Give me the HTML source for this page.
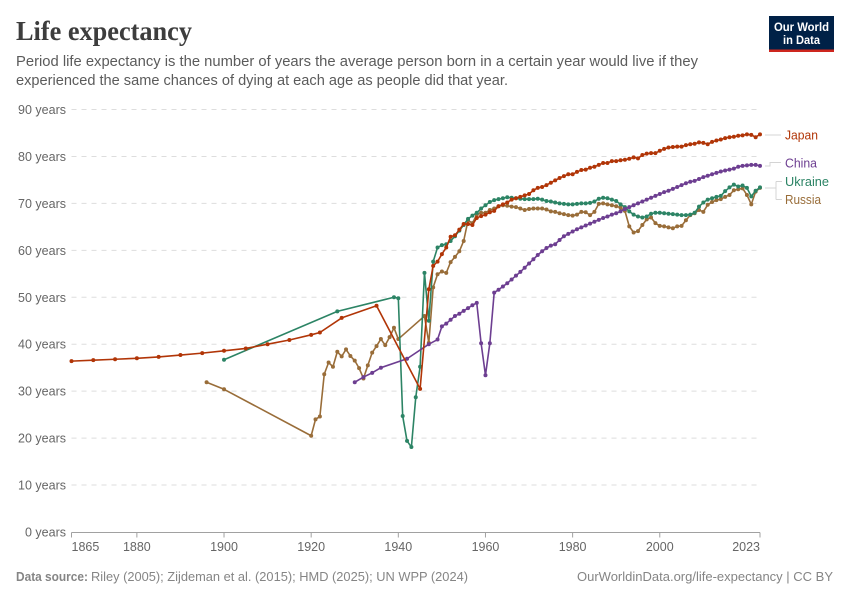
<!DOCTYPE html>
<html>
<head>
<meta charset="utf-8">
<title>Life expectancy</title>
<style>
html,body{margin:0;padding:0;background:#fff;width:850px;height:600px;overflow:hidden}
svg{display:block;font-family:"Liberation Sans",sans-serif}
</style>
</head>
<body>
<svg id="chart" width="850" height="600" viewBox="0 0 850 600" xmlns="http://www.w3.org/2000/svg">
  <text x="16" y="40" font-family="'Liberation Serif',serif" font-weight="700" font-size="27" fill="#3d3d3d" textLength="176" lengthAdjust="spacingAndGlyphs">Life expectancy</text>
  <text x="16" y="66" font-size="14.5" fill="#5b5b5b" textLength="682" lengthAdjust="spacingAndGlyphs">Period life expectancy is the number of years the average person born in a certain year would live if they</text>
  <text x="16" y="85" font-size="14.5" fill="#5b5b5b" textLength="492" lengthAdjust="spacingAndGlyphs">experienced the same chances of dying at each age as people did that year.</text>

  <g>
    <rect x="769" y="16" width="65" height="36" fill="#002147"/>
    <rect x="769" y="49.5" width="65" height="2.5" fill="#ce261e"/>
    <text x="801.5" y="31" text-anchor="middle" font-size="12" font-weight="700" fill="#fff" textLength="55" lengthAdjust="spacingAndGlyphs">Our World</text>
    <text x="801.5" y="44" text-anchor="middle" font-size="12" font-weight="700" fill="#fff" textLength="37" lengthAdjust="spacingAndGlyphs">in Data</text>
  </g>

  <g id="grid"></g>
  <g id="yticks"></g>
  <g id="xaxis"></g>
  <g id="series"></g>

  <g fill="none" stroke="#d4d4d4" stroke-width="1">
    <path d="M765 135H781"/>
    <path d="M765 166H770V162.500H781"/>
    <path d="M765 188H776M776 181.500V199.500M776 181.500H782M776 199.500H782"/>
  </g>
  <text x="785" y="139.500" font-size="13" fill="#b13507" textLength="33" lengthAdjust="spacingAndGlyphs">Japan</text>
  <text x="785" y="167.500" font-size="13" fill="#6d3e91" textLength="32" lengthAdjust="spacingAndGlyphs">China</text>
  <text x="785" y="186" font-size="13" fill="#2c8465" textLength="44" lengthAdjust="spacingAndGlyphs">Ukraine</text>
  <text x="785" y="204" font-size="13" fill="#996d39" textLength="36" lengthAdjust="spacingAndGlyphs">Russia</text>

  <text x="16" y="581" font-size="12.500" font-weight="700" fill="#858585" textLength="72" lengthAdjust="spacingAndGlyphs">Data source:</text>
  <text x="91" y="581" font-size="12.500" fill="#858585" textLength="377" lengthAdjust="spacingAndGlyphs">Riley (2005); Zijdeman et al. (2015); HMD (2025); UN WPP (2024)</text>
  <text x="577" y="581" font-size="12.500" fill="#858585" textLength="256" lengthAdjust="spacingAndGlyphs">OurWorldinData.org/life-expectancy | CC BY</text>
</svg>
<script>
const yTickValues = [0, 10, 20, 30, 40, 50, 60, 70, 80, 90];
const xTickYears = [1865, 1880, 1900, 1920, 1940, 1960, 1980, 2000, 2023];

const japanYears = [1865,1870,1875,1880,1885,1890,1895,1900,1905,1910,1915,1920,1922,1927,1935,1945,1947,1948,1949,1950,1951,1952,1953,1954,1955,1956,1957,1958,1959,1960,1961,1962,1963,1964,1965,1966,1967,1968,1969,1970,1971,1972,1973,1974,1975,1976,1977,1978,1979,1980,1981,1982,1983,1984,1985,1986,1987,1988,1989,1990,1991,1992,1993,1994,1995,1996,1997,1998,1999,2000,2001,2002,2003,2004,2005,2006,2007,2008,2009,2010,2011,2012,2013,2014,2015,2016,2017,2018,2019,2020,2021,2022,2023];
const japanValues = [36.4,36.6,36.8,37.0,37.3,37.7,38.1,38.6,39.1,40.0,40.9,42.0,42.5,45.6,48.2,30.5,51.7,56.7,57.6,59.2,60.6,62.9,63.2,64.4,65.6,65.6,65.4,66.9,67.3,67.6,68.1,68.4,69.4,69.8,70.2,70.8,71.1,71.4,71.7,72.0,72.8,73.3,73.5,73.9,74.4,74.9,75.4,75.8,76.2,76.2,76.7,77.1,77.2,77.6,77.8,78.2,78.6,78.6,79.0,79.0,79.2,79.3,79.5,79.8,79.6,80.3,80.6,80.7,80.7,81.2,81.6,81.9,82.0,82.1,82.1,82.4,82.6,82.7,83.0,82.9,82.6,83.1,83.4,83.6,83.9,84.1,84.2,84.4,84.5,84.7,84.6,84.1,84.7];

const chinaYears = [1930,1932,1934,1936,1942,1947,1949,1950,1951,1952,1953,1954,1955,1956,1957,1958,1959,1960,1961,1962,1963,1964,1965,1966,1967,1968,1969,1970,1971,1972,1973,1974,1975,1976,1977,1978,1979,1980,1981,1982,1983,1984,1985,1986,1987,1988,1989,1990,1991,1992,1993,1994,1995,1996,1997,1998,1999,2000,2001,2002,2003,2004,2005,2006,2007,2008,2009,2010,2011,2012,2013,2014,2015,2016,2017,2018,2019,2020,2021,2022,2023];
const chinaValues = [31.9,33.0,33.9,35.0,36.9,40.0,41.0,43.8,44.4,45.2,46.0,46.5,47.1,47.7,48.3,48.8,40.2,33.4,40.2,51.0,51.6,52.3,53.0,53.8,54.6,55.4,56.3,57.2,58.1,59.0,59.8,60.5,61.0,61.3,62.2,63.0,63.5,64.0,64.5,64.9,65.3,65.7,66.1,66.5,66.9,67.2,67.6,67.9,68.3,68.8,69.2,69.6,70.0,70.4,70.8,71.2,71.6,72.0,72.4,72.7,73.1,73.5,73.9,74.3,74.6,74.8,75.2,75.6,75.9,76.2,76.5,76.8,77.0,77.2,77.4,77.8,78.0,78.1,78.2,78.2,78.0];

const ukraineYears = [1900,1926,1939,1940,1941,1942,1943,1944,1945,1946,1947,1948,1949,1950,1951,1952,1953,1954,1955,1956,1957,1958,1959,1960,1961,1962,1963,1964,1965,1966,1967,1968,1969,1970,1971,1972,1973,1974,1975,1976,1977,1978,1979,1980,1981,1982,1983,1984,1985,1986,1987,1988,1989,1990,1991,1992,1993,1994,1995,1996,1997,1998,1999,2000,2001,2002,2003,2004,2005,2006,2007,2008,2009,2010,2011,2012,2013,2014,2015,2016,2017,2018,2019,2020,2021,2022,2023];
const ukraineValues = [36.7,47.0,50.0,49.8,24.7,19.4,18.1,28.7,35.2,55.2,45.0,57.6,60.6,61.1,61.3,62.0,63.0,64.2,65.4,66.7,67.4,68.0,68.9,69.6,70.3,70.7,70.9,71.1,71.3,71.2,71.1,71.0,70.9,70.9,70.9,71.0,70.8,70.5,70.4,70.2,70.0,69.9,69.8,69.8,69.9,70.0,70.0,70.1,70.4,71.0,71.2,71.1,70.8,70.5,69.8,69.2,68.3,67.6,67.2,67.0,67.2,67.8,68.0,68.0,67.9,67.8,67.7,67.6,67.5,67.5,67.6,68.0,69.3,70.2,70.8,71.1,71.4,71.6,72.6,73.4,74.0,73.6,73.8,73.3,71.5,72.7,73.4];

const russiaYears = [1896,1900,1920,1921,1922,1923,1924,1925,1926,1927,1928,1929,1930,1931,1932,1933,1934,1935,1936,1937,1938,1939,1940,1946,1947,1948,1949,1950,1951,1952,1953,1954,1955,1956,1957,1958,1959,1960,1961,1962,1963,1964,1965,1966,1967,1968,1969,1970,1971,1972,1973,1974,1975,1976,1977,1978,1979,1980,1981,1982,1983,1984,1985,1986,1987,1988,1989,1990,1991,1992,1993,1994,1995,1996,1997,1998,1999,2000,2001,2002,2003,2004,2005,2006,2007,2008,2009,2010,2011,2012,2013,2014,2015,2016,2017,2018,2019,2020,2021,2022,2023];
const russiaValues = [31.9,30.4,20.5,24.0,24.6,33.6,36.1,35.2,38.4,37.4,38.9,37.5,36.5,34.9,32.7,35.5,38.2,39.6,41.1,39.8,41.5,43.5,41.1,46.0,40.3,52.1,54.9,55.5,55.2,57.5,58.6,59.8,62.0,66.4,65.8,67.6,68.0,68.0,68.6,68.9,69.4,69.6,69.5,69.3,69.2,68.9,68.6,68.8,68.9,68.9,68.9,68.7,68.3,68.2,67.9,67.7,67.5,67.4,67.6,68.2,68.1,67.5,68.2,69.9,70.0,69.8,69.6,69.4,69.1,68.4,65.1,63.8,64.1,65.4,66.6,67.0,65.8,65.2,65.1,64.9,64.7,65.1,65.2,66.4,67.5,67.9,68.6,68.2,69.7,70.3,70.7,70.9,71.4,71.8,72.8,73.0,73.2,71.8,69.8,72.5,73.3];

const NS = 'http://www.w3.org/2000/svg';
function xScale(year) { return 71.5 + (year - 1865) * (760 - 71.5) / (2023 - 1865); }
function yScale(value) { return 532 - value * (532 - 109.5) / 90; }
function make(tag, parent, attrs) {
  const el = document.createElementNS(NS, tag);
  for (const k in attrs) el.setAttribute(k, attrs[k]);
  parent.appendChild(el);
  return el;
}

const grid = document.getElementById('grid');
const yticks = document.getElementById('yticks');
const xaxis = document.getElementById('xaxis');
const seriesLayer = document.getElementById('series');

yTickValues.forEach(function (v) {
  const y = yScale(v);
  if (v > 0) {
    const line = make('line', grid, {x1: 71.5, x2: 760, y1: y, y2: y, stroke: '#dddddd', 'stroke-width': 1, 'stroke-dasharray': '5,5'});
    
    
  }
  const label = make('text', yticks, {x: 66, y: y + 4.5, 'text-anchor': 'end', 'font-size': 12.5, fill: '#666666'});
  label.textContent = v + ' years';
  
  
});

const axisLine = make('line', xaxis, {x1: 71.5, x2: 760, y1: 532.5, y2: 532.5, stroke: '#a1a1a1', 'stroke-width': 1});



xTickYears.forEach(function (year, i) {
  const x = xScale(year);
  const tick = make('line', xaxis, {x1: x, x2: x, y1: 532.5, y2: 537.5, stroke: '#a1a1a1', 'stroke-width': 1});
  
  
  const first = i === 0;
  const last = i === xTickYears.length - 1;
  const label = make('text', xaxis, {x: x, y: 551, 'text-anchor': first ? 'start' : (last ? 'end' : 'middle'), 'font-size': 12.5, fill: '#666666'});
  label.textContent = year;
  
  
});

function drawSeries(key, years, values, color, radius) {
  const g = make('g', seriesLayer, {});
  
  
  const pts = years.map(function (yr, i) { return xScale(yr).toFixed(2) + ',' + yScale(values[i]).toFixed(2); }).join(' ');
  const line = make('polyline', g, {points: pts, fill: 'none', stroke: color, 'stroke-width': 1.6, 'stroke-linejoin': 'round'});
  
  
  years.forEach(function (yr, i) {
    const dot = make('circle', g, {cx: xScale(yr), cy: yScale(values[i]), r: radius, fill: color});
    
    
  });
}

drawSeries('russia', russiaYears, russiaValues, '#996d39', 2);
drawSeries('ukraine', ukraineYears, ukraineValues, '#2c8465', 2);
drawSeries('china', chinaYears, chinaValues, '#6d3e91', 2);
drawSeries('japan', japanYears, japanValues, '#b13507', 2);
</script>
</body>
</html>
